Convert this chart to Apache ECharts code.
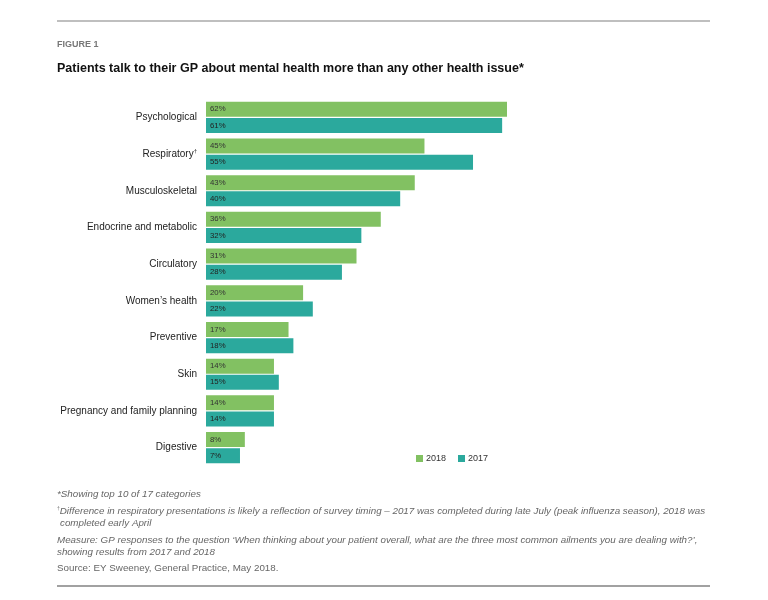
<!DOCTYPE html>
<html><head><meta charset="utf-8">
<script src="https://cdn.jsdelivr.net/npm/echarts@6/dist/echarts.min.js"></script>
<style>html,body{margin:0;padding:0;background:#fff}#c{width:768px;height:600px}</style>
</head><body><div id="c"></div>
<script>
const categories = ['Psychological','Respiratory','Musculoskeletal','Endocrine and metabolic','Circulatory',"Women’s health",'Preventive','Skin','Pregnancy and family planning','Digestive'];
const values2018 = [62,45,43,36,31,20,17,14,14,8];
const values2017 = [61,55,40,32,28,22,18,15,14,7];
const seriesNames = ['2018','2017'];

const FONT = '"Liberation Sans", Arial, sans-serif';
const GREEN = '#82c162';
const TEAL = '#2ba99d';
const chart = echarts.init(document.getElementById('c'), null, {renderer:'canvas'});

const footStyle = {fontFamily: FONT, fontSize: 9.8, fill: '#666', fontStyle: 'italic'};
const option = {
  animation: false,
  textStyle: {fontFamily: FONT},
  grid: {left: 206, top: 99, width: 301, height: 367, containLabel: false},
  xAxis: {type: 'value', min: 0, max: 62, show: false},
  yAxis: {
    type: 'category', data: categories, inverse: true,
    axisLine: {show: false}, axisTick: {show: false},
    axisLabel: {
      margin: 9, color: '#222', fontSize: 10, fontFamily: FONT,
      formatter: v => v === 'Respiratory' ? v + '{s|†}' : v,
      rich: {s: {fontSize: 6, verticalAlign: 'top', color: '#222', padding: [0,0,6,0]}}
    }
  },
  legend: {
    data: seriesNames, left: 411, top: 449, itemWidth: 7, itemHeight: 7, itemGap: 12,
    icon: 'rect', textStyle: {fontSize: 9, color: '#333', fontFamily: FONT, padding: [0,0,0,-2]}
  },
  series: [
    {name: seriesNames[0], type: 'bar', data: values2018, barWidth: 15, barGap: '8%',
     itemStyle: {color: GREEN},
     label: {show: true, position: 'insideLeft', offset: [-1, 0], formatter: '{c}%', fontSize: 7.8, color: '#333', fontFamily: FONT}},
    {name: seriesNames[1], type: 'bar', data: values2017, barWidth: 15,
     itemStyle: {color: TEAL},
     label: {show: true, position: 'insideLeft', offset: [-1, 0], formatter: '{c}%', fontSize: 7.8, color: '#222', fontFamily: FONT}}
  ],
  graphic: [
    {type: 'line', shape: {x1: 57, y1: 21, x2: 710, y2: 21}, style: {stroke: '#aaa', lineWidth: 1.5}},
    {type: 'text', left: 57, top: 40, style: {text: 'FIGURE 1', fontFamily: FONT, fontSize: 9, fontWeight: 'bold', fill: '#777'}},
    {type: 'text', left: 57, top: 62, style: {text: 'Patients talk to their GP about mental health more than any other health issue*', fontFamily: FONT, fontSize: 12.5, fontWeight: 'bold', fill: '#111'}},
    {type: 'text', left: 57, top: 489, style: Object.assign({text: '*Showing top 10 of 17 categories'}, footStyle)},
    {type: 'text', left: 57, top: 506, style: {text: '{s|†}{t|Difference in respiratory presentations is likely a reflection of survey timing – 2017 was completed during late July (peak influenza season), 2018 was}', rich: {s: {fontSize: 5, fill: '#666', verticalAlign: 'top', padding:[0,0,5,0], fontFamily: FONT}, t: {fontSize: 9.8, fill: '#666', fontStyle: 'italic', fontFamily: FONT}}}},
    {type: 'text', left: 60, top: 518, style: Object.assign({text: 'completed early April'}, footStyle)},
    {type: 'text', left: 57, top: 535, style: Object.assign({text: 'Measure: GP responses to the question ‘When thinking about your patient overall, what are the three most common ailments you are dealing with?’,'}, footStyle)},
    {type: 'text', left: 57, top: 547, style: Object.assign({text: 'showing results from 2017 and 2018'}, footStyle)},
    {type: 'text', left: 57, top: 563, style: {text: 'Source: EY Sweeney, General Practice, May 2018.', fontFamily: FONT, fontSize: 9.8, fill: '#666'}},
    {type: 'line', shape: {x1: 57, y1: 586, x2: 710, y2: 586}, style: {stroke: '#444', lineWidth: 1.2}}
  ]
};
chart.setOption(option);
</script></body></html>
